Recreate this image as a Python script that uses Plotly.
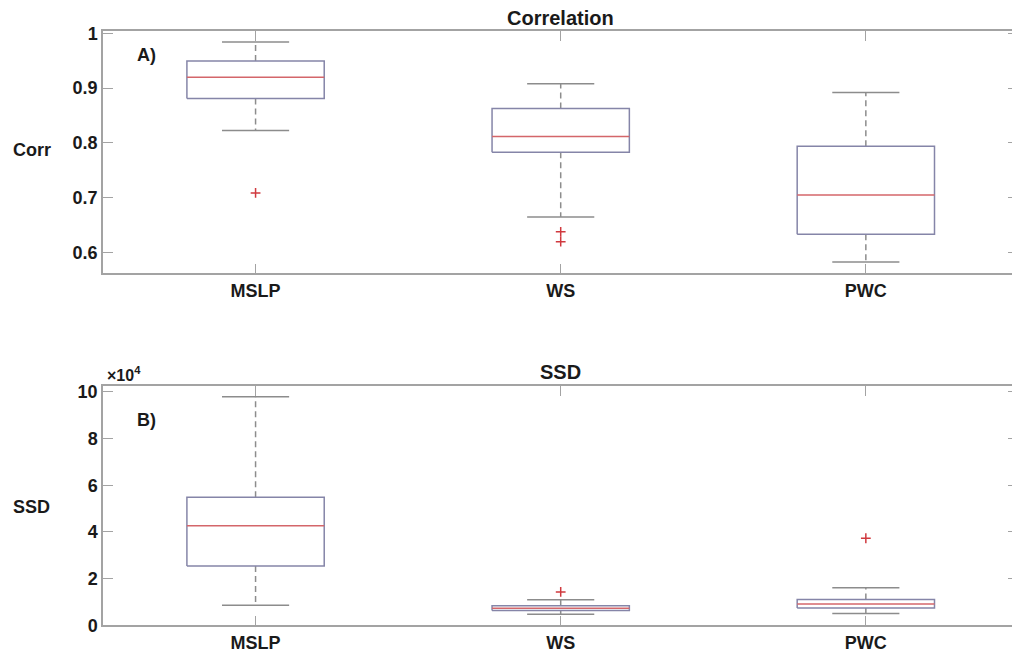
import plotly.graph_objects as go

# ---- data -------------------------------------------------------------
categories = ["MSLP", "WS", "PWC"]

# Correlation box statistics per variable
corr_lower_whisker = [0.823, 0.665, 0.583]
corr_q1 = [0.881, 0.783, 0.6335]
corr_median = [0.920, 0.812, 0.705]
corr_q3 = [0.9495, 0.863, 0.794]
corr_upper_whisker = [0.984, 0.908, 0.892]
corr_outliers = [[0.709], [0.638, 0.620], []]

# SSD box statistics per variable
ssd_lower_whisker = [8600, 4700, 5000]
ssd_q1 = [25400, 6300, 7400]
ssd_median = [42700, 7300, 9100]
ssd_q3 = [54900, 8400, 11100]
ssd_upper_whisker = [98000, 11000, 16100]
ssd_outliers = [[], [14300], [37300]]

corr_ticks = [0.6, 0.7, 0.8, 0.9, 1.0]
corr_ticktext = ["0.6", "0.7", "0.8", "0.9", "1"]
ssd_ticks = [0, 20000, 40000, 60000, 80000, 100000]
ssd_ticktext = ["0", "2", "4", "6", "8", "10"]

# ---- styling ----------------------------------------------------------
FONT = "Liberation Sans, Arial, Helvetica, sans-serif"
TEXT_COLOR = "#1a1a1a"
AXIS_COLOR = "#a3a3a3"
BOX_COLOR = "#8585a8"
WHISKER_COLOR = "#8c8c8c"
MEDIAN_COLOR = "#d4666a"
OUTLIER_COLOR = "#d0393e"
BOX_HALF = 0.225
CAP_HALF = 0.11
LW = 1.5

W, H = 1012, 654
L_MARGIN = 103
X_RANGE = [0.5, 3.479]
TOP_DOMAIN = [0.5821, 0.9526]
BOT_DOMAIN = [0.0439, 0.4098]


def panel_traces(lo, q1, med, q3, hi, outliers, xa, ya):
    box_x, box_y = [], []
    wh_x, wh_y = [], []
    cap_x, cap_y = [], []
    med_x, med_y = [], []
    out_x, out_y = [], []
    for i in range(len(categories)):
        p = i + 1
        box_x += [p - BOX_HALF, p + BOX_HALF, p + BOX_HALF, p - BOX_HALF, p - BOX_HALF, None]
        box_y += [q1[i], q1[i], q3[i], q3[i], q1[i], None]
        wh_x += [p, p, None, p, p, None]
        wh_y += [q3[i], hi[i], None, q1[i], lo[i], None]
        cap_x += [p - CAP_HALF, p + CAP_HALF, None, p - CAP_HALF, p + CAP_HALF, None]
        cap_y += [hi[i], hi[i], None, lo[i], lo[i], None]
        med_x += [p - BOX_HALF, p + BOX_HALF, None]
        med_y += [med[i], med[i], None]
        out_x += [p] * len(outliers[i])
        out_y += list(outliers[i])
    common = dict(xaxis=xa, yaxis=ya, hoverinfo="skip", showlegend=False)
    return [
        go.Scatter(x=wh_x, y=wh_y, mode="lines",
                   line=dict(color=WHISKER_COLOR, width=LW, dash="6px,4px"), **common),
        go.Scatter(x=cap_x, y=cap_y, mode="lines",
                   line=dict(color=WHISKER_COLOR, width=LW), **common),
        go.Scatter(x=box_x, y=box_y, mode="lines",
                   line=dict(color=BOX_COLOR, width=LW), **common),
        go.Scatter(x=med_x, y=med_y, mode="lines",
                   line=dict(color=MEDIAN_COLOR, width=LW), **common),
        go.Scatter(x=out_x, y=out_y, mode="markers",
                   marker=dict(symbol="cross-thin", size=7,
                               line=dict(color=OUTLIER_COLOR, width=1.5)), **common),
    ]


fig = go.Figure()
for t in panel_traces(corr_lower_whisker, corr_q1, corr_median, corr_q3,
                      corr_upper_whisker, corr_outliers, "x", "y"):
    fig.add_trace(t)
for t in panel_traces(ssd_lower_whisker, ssd_q1, ssd_median, ssd_q3,
                      ssd_upper_whisker, ssd_outliers, "x2", "y2"):
    fig.add_trace(t)
# empty traces so the right-hand tick axes are drawn
fig.add_trace(go.Scatter(x=[], y=[], xaxis="x", yaxis="y3", showlegend=False, hoverinfo="skip"))
fig.add_trace(go.Scatter(x=[], y=[], xaxis="x2", yaxis="y4", showlegend=False, hoverinfo="skip"))

tick_font = dict(family=FONT, size=18, color=TEXT_COLOR, weight="bold")

xaxis_common = dict(
    range=X_RANGE, tickvals=[1, 2, 3], ticktext=categories,
    ticks="inside", ticklen=10, tickwidth=1, tickcolor=AXIS_COLOR,
    showline=True, linecolor=AXIS_COLOR, linewidth=1.5, mirror="ticks",
    showgrid=False, zeroline=False, tickfont=tick_font, domain=[0, 1],
    automargin=False,
)
yaxis_common = dict(
    ticks="inside", ticklen=10, tickwidth=1, tickcolor=AXIS_COLOR,
    showline=True, linecolor=AXIS_COLOR, linewidth=1.5,
    showgrid=False, zeroline=False, tickfont=tick_font, automargin=False,
)
right_common = dict(
    side="right", ticks="inside", ticklen=4, tickwidth=1, tickcolor=AXIS_COLOR,
    showline=False, showgrid=False, zeroline=False, showticklabels=False,
    automargin=False,
)

corr_range = [0.5624, 1.0042]
ssd_range = [0, 102570]

fig.update_layout(
    width=W, height=H,
    margin=dict(l=L_MARGIN, r=0, t=0, b=0, autoexpand=False),
    paper_bgcolor="white", plot_bgcolor="white",
    xaxis=dict(anchor="y", **xaxis_common),
    yaxis=dict(anchor="x", domain=TOP_DOMAIN, range=corr_range,
               tickvals=corr_ticks, ticktext=corr_ticktext, **yaxis_common),
    xaxis2=dict(anchor="y2", **xaxis_common),
    yaxis2=dict(anchor="x2", domain=BOT_DOMAIN, range=ssd_range,
                tickvals=ssd_ticks, ticktext=ssd_ticktext, **yaxis_common),
    yaxis3=dict(anchor="x", overlaying="y", range=corr_range,
                tickvals=corr_ticks, **right_common),
    yaxis4=dict(anchor="x2", overlaying="y2", range=ssd_range,
                tickvals=ssd_ticks, **right_common),
)

title_font = dict(family=FONT, size=20, color=TEXT_COLOR, weight="bold")
label_font = dict(family=FONT, size=18, color=TEXT_COLOR, weight="bold")

annotations = [
    dict(text="Correlation", x=2, xref="x", y=0.9725, yref="paper",
         showarrow=False, font=title_font, xanchor="center", yanchor="middle"),
    dict(text="SSD", x=2, xref="x2", y=0.4312, yref="paper",
         showarrow=False, font=title_font, xanchor="center", yanchor="middle"),
    dict(text="Corr", x=-0.0784, xref="paper", y=0.7706, yref="paper",
         showarrow=False, font=label_font, xanchor="center", yanchor="middle"),
    dict(text="SSD", x=-0.0784, xref="paper", y=0.2252, yref="paper",
         showarrow=False, font=label_font, xanchor="center", yanchor="middle"),
    dict(text="A)", x=0.0352, xref="x domain", y=0.9159, yref="paper",
         showarrow=False, font=label_font, xanchor="left", yanchor="middle"),
    dict(text="B)", x=0.0352, xref="x2 domain", y=0.3578, yref="paper",
         showarrow=False, font=label_font, xanchor="left", yanchor="middle"),
    dict(text="×10<sup>4</sup>", x=0.002, xref="paper", y=0.4098, yref="paper",
         showarrow=False, font=dict(family=FONT, size=16, color=TEXT_COLOR, weight="bold"),
         xanchor="left", yanchor="bottom"),
]
fig.update_layout(annotations=annotations)

fig.write_html("out.html")
